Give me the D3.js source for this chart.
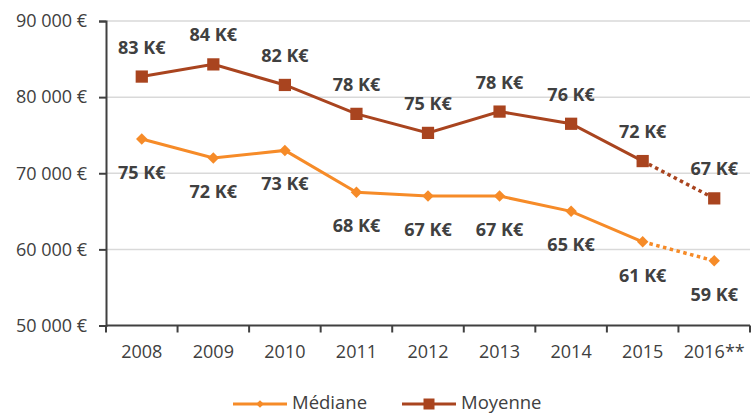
<!DOCTYPE html>
<html>
<head>
<meta charset="utf-8">
<script src="https://cdn.jsdelivr.net/npm/d3@7"></script>
<style>
  body { margin: 0; background: #fff; }
  text { font-family: "Open Sans", sans-serif; fill: #404040; }
  .tick text { font-size: 18px; }
  .valueLabel { font-size: 18px; font-weight: bold; }
  .legendLabel { font-size: 18.5px; }
</style>
</head>
<body>
<div id="chart"></div>
<script>
// data
const years = ["2008", "2009", "2010", "2011", "2012", "2013", "2014", "2015", "2016**"];
const mediane = [74500, 72000, 73000, 67500, 67000, 67000, 65000, 61000, 58500];
const moyenne = [82700, 84300, 81600, 77800, 75300, 78100, 76500, 71600, 66700];
const medianeLabels = ["75 K€", "72 K€", "73 K€", "68 K€", "67 K€", "67 K€", "65 K€", "61 K€", "59 K€"];
const moyenneLabels = ["83 K€", "84 K€", "82 K€", "78 K€", "75 K€", "78 K€", "76 K€", "72 K€", "67 K€"];
const yTicks = [50000, 60000, 70000, 80000, 90000];

const width = 754, height = 414;
const margin = { top: 21, left: 106, right: 4, bottom: 88.5 };

const orange = "#f68b28";
const brown = "#a9441f";

const svg = d3.select("#chart")
    .append("svg")
    .attr("width", width)
    .attr("height", height);

const xScale = d3.scaleBand()
    .domain(years)
    .range([margin.left, width - margin.right]);

const yScale = d3.scaleLinear()
    .domain([50000, 90000])
    .range([height - margin.bottom, margin.top]);

const fmt = d => d3.format(",")(d).replace(/,/g, " ") + " €";

// gridlines
svg.append("g")
    .selectAll("line")
    .data(yTicks.slice(1))
    .join("line")
    .attr("x1", margin.left)
    .attr("x2", width - margin.right)
    .attr("y1", d => yScale(d))
    .attr("y2", d => yScale(d))
    .attr("stroke", "#d9d9d9")
    .attr("stroke-width", 1.5);

// axes
const yAxis = svg.append("g")
    .attr("transform", `translate(${margin.left},0)`)
    .call(d3.axisLeft(yScale).tickValues(yTicks).tickFormat(fmt).tickSize(7).tickPadding(12));

const xAxis = svg.append("g")
    .attr("transform", `translate(0,${height - margin.bottom})`)
    .call(d3.axisBottom(xScale).tickSize(0).tickPadding(20));

// x ticks sit between categories
xAxis.selectAll(".sepTick")
    .data(years.map(d => xScale(d)).concat([width - margin.right]))
    .join("line")
    .attr("class", "sepTick")
    .attr("x1", d => d).attr("x2", d => d)
    .attr("y1", 0).attr("y2", 7);

svg.selectAll(".domain, .tick line, .sepTick")
    .attr("stroke", "#404040")
    .attr("stroke-width", 2);
xAxis.select(".domain").attr("d", `M${margin.left},0H${width - margin.right}`);
svg.selectAll(".tick text").attr("fill", "#404040");

const cx = (d, i) => xScale(years[i]) + xScale.bandwidth() / 2;

const line = d3.line()
    .x((d, i) => cx(d, i))
    .y(d => yScale(d));

const squareSym = d3.symbol().type(d3.symbolSquare).size(150);
const diamondSym = d3.symbol().type(d3.symbolSquare).size(66); // rotated 45deg

function drawSeries(values, color, marker, labels, labelDy) {
    const solid = values.slice(0, 8);
    svg.append("path")
        .attr("d", line(solid))
        .attr("fill", "none")
        .attr("stroke", color)
        .attr("stroke-width", 3);

    // projected last year drawn dotted
    svg.append("line")
        .attr("x1", cx(null, 7)).attr("y1", yScale(values[7]))
        .attr("x2", cx(null, 8)).attr("y2", yScale(values[8]))
        .attr("stroke", color)
        .attr("stroke-width", 3.5)
        .attr("stroke-dasharray", "3.5 3.5");

    svg.append("g")
        .selectAll("path")
        .data(values)
        .join("path")
        .attr("d", marker === "square" ? squareSym : diamondSym)
        .attr("transform", (d, i) => `translate(${cx(d, i)},${yScale(d)})${marker === "diamond" ? " rotate(45)" : ""}`)
        .attr("fill", color);

    svg.append("g")
        .selectAll("text")
        .data(values)
        .join("text")
        .attr("class", "valueLabel")
        .attr("x", (d, i) => cx(d, i))
        .attr("y", d => yScale(d) + labelDy)
        .attr("text-anchor", "middle")
        .attr("dominant-baseline", "central")
        .text((d, i) => labels[i]);
}

drawSeries(mediane, orange, "diamond", medianeLabels, 33);
drawSeries(moyenne, brown, "square", moyenneLabels, -30);

// legend
const legendItems = [
    { name: "Médiane", color: orange, marker: "diamond", x: 233 },
    { name: "Moyenne", color: brown, marker: "square", x: 402 }
];
const ly = 404;
const lg = svg.append("g").selectAll("g")
    .data(legendItems)
    .join("g")
    .attr("transform", d => `translate(${d.x},${ly})`);

lg.append("line")
    .attr("x1", 0).attr("x2", 54)
    .attr("stroke", d => d.color)
    .attr("stroke-width", 3);

lg.append("path")
    .attr("d", d => d.marker === "square"
        ? d3.symbol().type(d3.symbolSquare).size(121)()
        : d3.symbol().type(d3.symbolSquare).size(30)())
    .attr("transform", d => `translate(27,0)${d.marker === "diamond" ? " rotate(45)" : ""}`)
    .attr("fill", d => d.color);

lg.append("text")
    .attr("class", "legendLabel")
    .attr("x", 59)
    .attr("y", 5)
    .text(d => d.name);
</script>
</body>
</html>
